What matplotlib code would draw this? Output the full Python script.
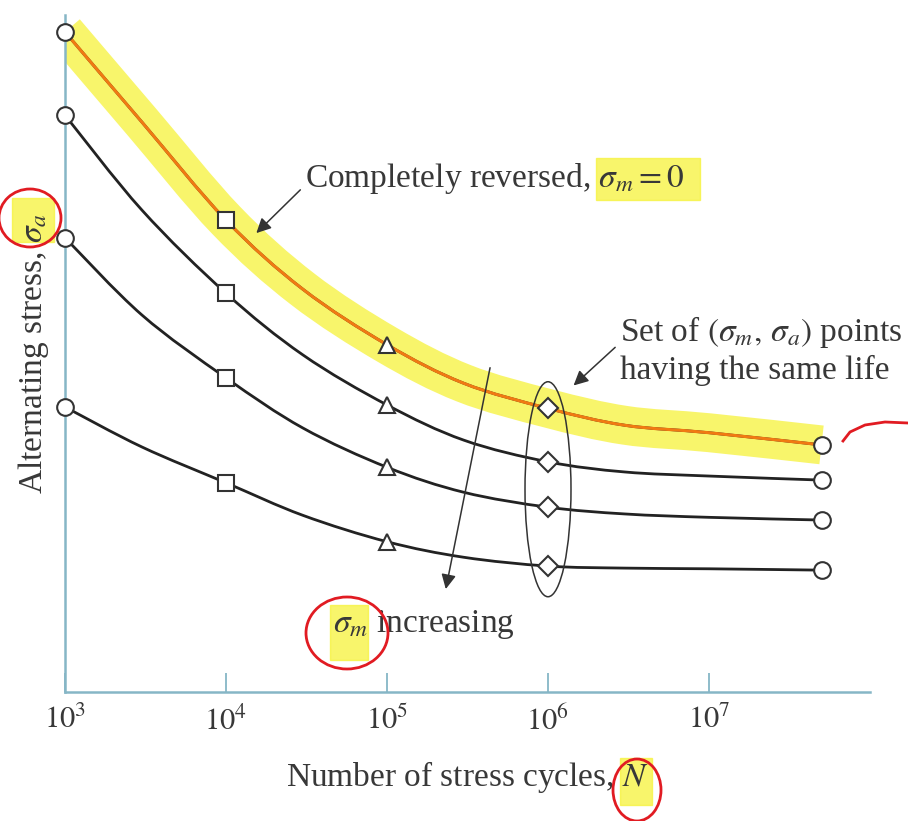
import numpy as np
import matplotlib
matplotlib.use("Agg")
import matplotlib.pyplot as plt
import matplotlib.transforms as mtransforms
from matplotlib.patches import Ellipse, Rectangle, PathPatch
from matplotlib.path import Path

plt.rcParams['font.family'] = ['Liberation Serif', 'DejaVu Serif']
plt.rcParams['mathtext.fontset'] = 'stix'

N_curve = [1e3, 3e3, 1e4, 3e4, 1e5, 3e5, 1e6, 3e6, 1e7, 5e7]

# alternating stress, arbitrary units (0 = N axis, 100 = top of the sigma_a axis)
sa_curve_1 = [97.5, 84.2, 69.7, 59.5, 51.3, 45.6, 41.9, 39.4, 38.3, 36.5]  # sigma_m = 0
sa_curve_2 = [85.2, 71.2, 58.9, 49.8, 42.4, 37.2, 34.0, 32.5, 31.9, 31.3]
sa_curve_3 = [67.1, 55.7, 46.4, 39.0, 33.2, 29.5, 27.3, 26.3, 25.8, 25.4]
sa_curve_4 = [42.1, 36.2, 30.9, 26.1, 22.2, 19.9, 18.6, 18.3, 18.2, 18.0]
curves = [sa_curve_1, sa_curve_2, sa_curve_3, sa_curve_4]
mark_idx = [0, 2, 4, 6, 9]  # the marked points inside N_curve (1e3, 1e4, 1e5, 1e6, 5e7)

mark_shapes = ['o', 's', '^', 'D', 'o']
mark_sizes = [12, 11, 12, 10, 12]

xtick_vals = [1e3, 1e4, 1e5, 1e6, 1e7]
xtick_labels = ['$10^{3}$', '$10^{4}$', '$10^{5}$', '$10^{6}$', '$10^{7}$']

XLIM = (1e3, 1e8)
YLIM = (0, 100)
AXC = '#86b6c6'
TXT = '#383838'
YEL = '#f6f23a'
RED = '#e11b22'

fig = plt.figure(figsize=(9.08, 8.21), dpi=100)
ax = fig.add_axes([65 / 908, 129 / 821, 805 / 908, 677 / 821])
ax.set_xscale('log')
ax.set_xlim(*XLIM)
ax.set_ylim(*YLIM)
ax.patch.set_visible(False)

# smooth drawing of a curve through its read points (log10 N, sigma_a space)
lx0, lx1 = np.log10(XLIM)
to_axes = mtransforms.Affine2D().translate(-lx0, -YLIM[0]).scale(
    1 / (lx1 - lx0), 1 / (YLIM[1] - YLIM[0])) + ax.transAxes


def smooth_path(xs, ys):
    p = np.column_stack([np.log10(xs), ys])
    ext = np.vstack([p[0], p, p[-1]])
    verts = [p[0]]
    codes = [Path.MOVETO]
    for i in range(len(p) - 1):
        c1 = p[i] + (ext[i + 2] - ext[i]) / 6
        c2 = p[i + 1] - (ext[i + 3] - ext[i + 1]) / 6
        verts += [c1, c2, p[i + 1]]
        codes += [Path.CURVE4] * 3
    return Path(verts, codes)


def draw_curve(xs, ys, clip=False, **kw):
    pp = PathPatch(smooth_path(xs, ys), fill=False, transform=to_axes, **kw)
    ax.add_patch(pp)
    pp.set_clip_on(clip)
    return pp


# highlighter + pen strokes over the sigma_m = 0 curve
draw_curve(N_curve, sa_curve_1, clip=True, ec=YEL, lw=28, alpha=0.75,
           capstyle='butt', zorder=1)

for sa in curves:
    draw_curve(N_curve, sa, ec='#222222', lw=2.0, zorder=2)
    for k, i in enumerate(mark_idx):
        ax.plot(N_curve[i], sa[i], marker=mark_shapes[k], ms=mark_sizes[k],
                mfc='white', mec='#333333', mew=1.5, zorder=4, clip_on=False)

draw_curve(N_curve, sa_curve_1, ec='#f07a12', lw=2.2, zorder=3)

# axes styling
for s in ['top', 'right']:
    ax.spines[s].set_visible(False)
for s in ['left', 'bottom']:
    ax.spines[s].set_color(AXC)
    ax.spines[s].set_linewidth(1.8)
ax.set_yticks([])
ax.set_xticks(xtick_vals)
ax.set_xticklabels(xtick_labels, fontsize=22, color=TXT)
ax.minorticks_off()
ax.tick_params(axis='x', direction='in', length=14, width=1.3, color=AXC, pad=10)

ax.set_xlabel('Number of stress cycles, $N$', fontsize=24, color=TXT, labelpad=16)
ax.set_ylabel('Alternating stress, $\\sigma_a$', fontsize=24, color=TXT, labelpad=10)

# annotations
arw = dict(arrowstyle='-|>', color='#333333', lw=1.1, mutation_scale=22)
ax.annotate('Completely reversed, $\\sigma_m = 0$', xy=(1.5e4, 67.5),
            xytext=(3.1e4, 75.9), fontsize=24, color=TXT, va='center',
            arrowprops=dict(arw, relpos=(0, 0.3)))
ax.annotate('Set of $(\\sigma_m,\\, \\sigma_a)$ points\nhaving the same life',
            xy=(1.4e6, 45.0), xytext=(2.8e6, 50.5), fontsize=24, color=TXT,
            va='center', ha='left', linespacing=1.2,
            arrowprops=dict(arw, relpos=(0, 0.6)))
ax.annotate('', xy=(2.3e5, 14.8), xytext=(4.4e5, 48.3), arrowprops=arw)
ax.text(4.6e4, 9.9, '$\\sigma_m$ increasing', fontsize=24, color=TXT, va='center')

# ellipse round the diamonds at 10^6
yc = np.mean([c[6] for c in curves])
etrans = fig.dpi_scale_trans + mtransforms.ScaledTranslation(1e6, yc - 0.5, ax.transData)
ax.add_patch(Ellipse((0, 0), 0.46, 2.15, transform=etrans, fill=False,
                     ec='#333333', lw=1.1, zorder=5))


# highlighter patches and red pen marks (figure pixel positions)
def fx(px):
    return px / 908


def fy(py):
    return 1 - py / 821


for x0, y0, w, h in [(12, 198, 42, 44), (596, 158, 104, 42),
                     (330, 605, 38, 55), (620, 758, 32, 47)]:
    fig.patches.append(Rectangle((fx(x0), fy(y0 + h)), w / 908, h / 821,
                                 transform=fig.transFigure, color=YEL,
                                 alpha=0.75, zorder=-1))

for cx, cy, w, h in [(30, 218, 62, 58), (347, 633, 82, 72), (637, 790, 48, 62)]:
    fig.patches.append(Ellipse((fx(cx), fy(cy)), w / 908, h / 821,
                               transform=fig.transFigure, fill=False,
                               ec=RED, lw=2.0, zorder=10))

fig.lines.append(plt.Line2D([fx(843), fx(850), fx(865), fx(885), fx(908)],
                            [fy(441), fy(432), fy(425), fy(422), fy(423)],
                            transform=fig.transFigure, color=RED, lw=2.0))

fig.savefig('out.png', dpi=100)
